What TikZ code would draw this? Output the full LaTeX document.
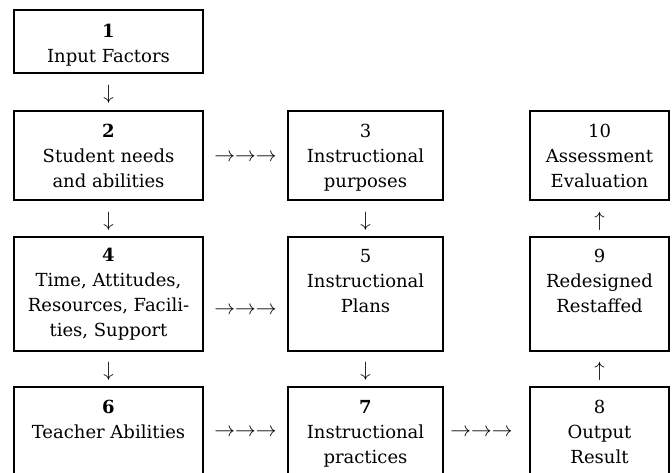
\documentclass[tikz,border=0pt]{standalone}
\usepackage{fontspec}
\setmainfont{DejaVu Serif}
\usetikzlibrary{calc}
\tikzset{
  cell/.style={draw,line width=2pt,inner sep=0pt,anchor=north west},
  celltext/.style={anchor=base,inner sep=0pt,font=\fontsize{18}{25}\selectfont},
  flow/.style={inner sep=0pt,font=\fontsize{20}{24}\selectfont}
}
\newcommand*\cellbody[2]{\parbox[t]{#1pt}{\centering #2}}

\begin{document}
\begin{tikzpicture}[x=1pt,y=1pt]
\path[use as bounding box,clip] (0,0) rectangle (672,-472);
%first column
\node [cell,minimum width=189,minimum height=63] (b1) at (13,-9) {};
\node [cell,minimum width=189,minimum height=89] (b2) at (13,-110) {};
\node [cell,minimum width=189,minimum height=114] (b4) at (13,-236) {};
\node [cell,minimum width=189,minimum height=92] (b6) at (13,-386) {};
%second column
\node [cell,minimum width=155,minimum height=89] (b3) at (287,-110) {};
\node [cell,minimum width=155,minimum height=114] (b5) at (287,-236) {};
\node [cell,minimum width=155,minimum height=92] (b7) at (287,-386) {};
%third column
\node [cell,minimum width=139,minimum height=89] (b10) at (529,-110) {};
\node [cell,minimum width=139,minimum height=114] (b9) at (529,-236) {};
\node [cell,minimum width=139,minimum height=92] (b8) at (529,-386) {};
%texts
\node [celltext] at ($(b1.north)+(0,-28)$) {\cellbody{185}{\textbf{1}\\Input Factors}};
\node [celltext] at ($(b2.north)+(0,-27)$) {\cellbody{185}{\textbf{2}\\Student needs\\and abilities}};
\node [celltext] at ($(b4.north)+(0,-25)$) {\cellbody{185}{\textbf{4}\\Time, Attitudes,\\Resources, Facili-\\ties, Support}};
\node [celltext] at ($(b6.north)+(0,-27)$) {\cellbody{185}{\textbf{6}\\Teacher Abilities}};
\node [celltext] at ($(b3.north)+(0,-27)$) {\cellbody{150}{3\\Instructional\\purposes}};
\node [celltext] at ($(b5.north)+(0,-26)$) {\cellbody{150}{5\\Instructional\\Plans}};
\node [celltext] at ($(b7.north)+(0,-27)$) {\cellbody{150}{\textbf{7}\\Instructional\\practices}};
\node [celltext] at ($(b10.north)+(0,-27)$) {\cellbody{135}{10\\Assessment\\Evaluation}};
\node [celltext] at ($(b9.north)+(0,-26)$) {\cellbody{135}{9\\Redesigned\\Restaffed}};
\node [celltext] at ($(b8.north)+(0,-27)$) {\cellbody{135}{8\\Output\\Result}};
%down and up
\node [flow,yshift=-2.5] (d12) at ($(b1.south)!0.5!(b2.north)$) {$\downarrow$};
\node [flow,yshift=-2.5] (d24) at ($(b2.south)!0.5!(b4.north)$) {$\downarrow$};
\node [flow,yshift=-2.5] (d46) at ($(b4.south)!0.5!(b6.north)$) {$\downarrow$};
\node [flow,yshift=-2.5] (d35) at ($(b3.south)!0.5!(b5.north)$) {$\downarrow$};
\node [flow,yshift=-2.5] (d57) at ($(b5.south)!0.5!(b7.north)$) {$\downarrow$};
\node [flow,yshift=-2.5] (u89) at ($(b8.north)!0.5!(b9.south)$) {$\uparrow$};
\node [flow,yshift=-2.5] (u910) at ($(b9.north)!0.5!(b10.south)$) {$\uparrow$};
%across
\node [flow,yshift=-2] (r23) at ($(b2.east)!0.5!(b3.west)$) {$\rightarrow\rightarrow\rightarrow$};
\node [flow,yshift=-17] (r45) at ($(b4.east)!0.5!(b5.west)$) {$\rightarrow\rightarrow\rightarrow$};
\node [flow] (r67) at ($(b6.east)!0.5!(b7.west)$) {$\rightarrow\rightarrow\rightarrow$};
\node [flow,xshift=-5] (r78) at ($(b7.east)!0.5!(b8.west)$) {$\rightarrow\rightarrow\rightarrow$};
\end{tikzpicture}
\end{document}
